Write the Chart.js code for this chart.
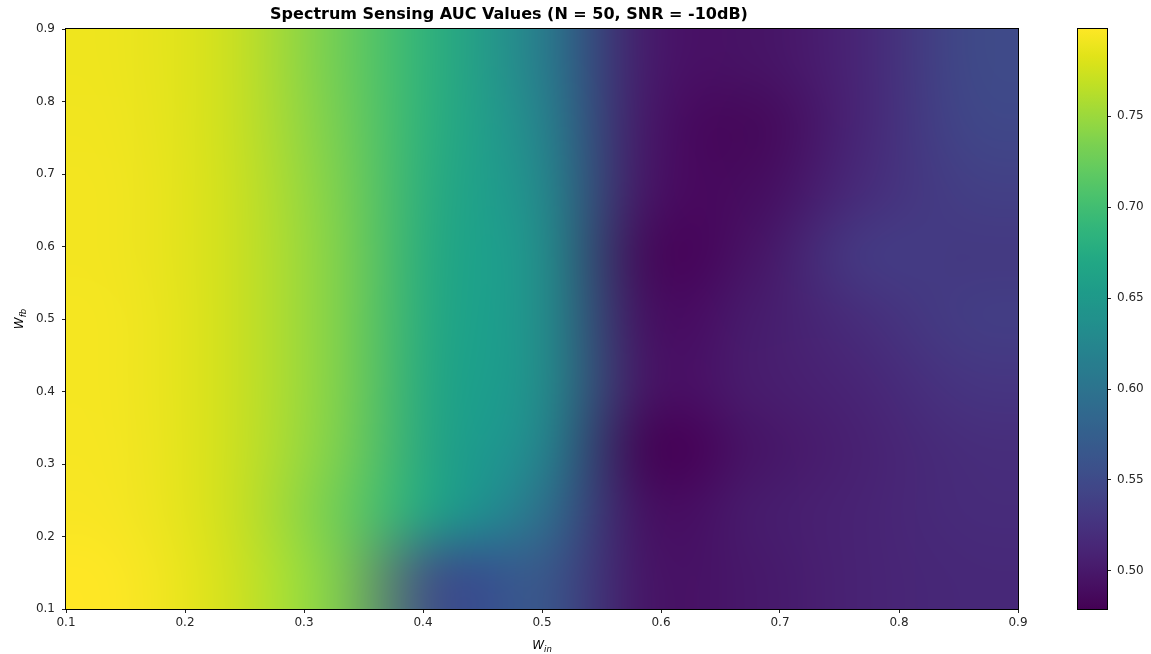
<!DOCTYPE html>
<html lang="en">
<head>
<meta charset="UTF-8">
<title>Spectrum Sensing AUC Values</title>
<script src="https://cdn.jsdelivr.net/npm/chart.js"></script>
<style>
  body { margin: 0; background: #fff; width: 1151px; height: 654px; position: relative; overflow: hidden; }
  canvas { position: absolute; top: 0; }
  #heatmap { left: 0; }
  #colorbar { left: 1060px; }
</style>
</head>
<body>
<canvas id="heatmap" width="1084" height="654"></canvas>
<canvas id="colorbar" width="91" height="654"></canvas>
<script>
// grid of the sweep: W_in along x, W_fb along y
const winValues = [0.1, 0.2, 0.3, 0.4, 0.5, 0.6, 0.7, 0.8, 0.9];
const wfbValues = [0.1, 0.2, 0.3, 0.4, 0.5, 0.6, 0.7, 0.8, 0.9];

// AUC for each W_fb row, one value per W_in
const aucFb01 = [0.798, 0.778, 0.738, 0.555, 0.568, 0.495, 0.500, 0.510, 0.515];
const aucFb02 = [0.795, 0.776, 0.732, 0.658, 0.598, 0.490, 0.502, 0.510, 0.518];
const aucFb03 = [0.794, 0.776, 0.738, 0.665, 0.625, 0.479, 0.496, 0.508, 0.520];
const aucFb04 = [0.793, 0.776, 0.740, 0.668, 0.635, 0.493, 0.503, 0.512, 0.528];
const aucFb05 = [0.793, 0.776, 0.740, 0.670, 0.636, 0.490, 0.502, 0.520, 0.536];
const aucFb06 = [0.792, 0.776, 0.740, 0.672, 0.636, 0.484, 0.495, 0.533, 0.532];
const aucFb07 = [0.792, 0.776, 0.738, 0.675, 0.630, 0.494, 0.488, 0.518, 0.538];
const aucFb08 = [0.791, 0.775, 0.735, 0.678, 0.623, 0.497, 0.484, 0.512, 0.545];
const aucFb09 = [0.790, 0.775, 0.732, 0.680, 0.615, 0.500, 0.494, 0.512, 0.548];
const aucRows = [aucFb01, aucFb02, aucFb03, aucFb04, aucFb05, aucFb06, aucFb07, aucFb08, aucFb09];

const axisTicks = [0.1, 0.2, 0.3, 0.4, 0.5, 0.6, 0.7, 0.8, 0.9];
const colorbarTicks = [0.50, 0.55, 0.60, 0.65, 0.70, 0.75];

const vmin = Math.min(...aucRows.flat());
const vmax = Math.max(...aucRows.flat());

const viridisStops = ['#440154', '#471365', '#482475', '#463480', '#414487', '#3b528b', '#355f8d',
  '#2f6c8e', '#2a788e', '#25848e', '#21918c', '#1e9c89', '#22a884', '#2fb47c', '#44bf70',
  '#5ec962', '#7ad151', '#9bd93c', '#bddf26', '#dfe318', '#fde725'];
const stopRgb = viridisStops.map(h => [1, 3, 5].map(i => parseInt(h.substr(i, 2), 16)));

function viridis(v) {
  let t = (v - vmin) / (vmax - vmin);
  t = Math.min(1, Math.max(0, t));
  const p = t * (stopRgb.length - 1);
  const i = Math.min(Math.floor(p), stopRgb.length - 2);
  const f = p - i;
  return stopRgb[i].map((c, k) => Math.round(c + (stopRgb[i + 1][k] - c) * f));
}

Chart.defaults.font.family = '"DejaVu Sans", sans-serif';
Chart.defaults.color = '#262626';

const tickFont = { family: '"DejaVu Sans", sans-serif', size: 12 };

function drawMathLabel(ctx, base, sub, cx, cy, rotate) {
  ctx.save();
  ctx.translate(cx, cy);
  if (rotate) ctx.rotate(-Math.PI / 2);
  const mainFont = 'italic 12px "DejaVu Sans"';
  const subFont = 'italic 8.5px "DejaVu Sans"';
  ctx.font = mainFont;
  const wBase = ctx.measureText(base).width;
  ctx.font = subFont;
  const wSub = ctx.measureText(sub).width;
  const start = -(wBase + wSub) / 2;
  ctx.fillStyle = '#000';
  ctx.textAlign = 'left';
  ctx.textBaseline = 'alphabetic';
  ctx.font = mainFont;
  ctx.fillText(base, start, 0);
  ctx.font = subFont;
  ctx.fillText(sub, start + wBase, 2.5);
  ctx.restore();
}

function drawFrame(ctx, a) {
  ctx.save();
  ctx.strokeStyle = '#000';
  ctx.lineWidth = 1;
  ctx.strokeRect(a.left - 0.5, a.top - 0.5, a.right - a.left + 1, a.bottom - a.top + 1);
  ctx.restore();
}

const heatmapPlugin = {
  id: 'heatmap',
  beforeDatasetsDraw(chart) {
    const { ctx, scales: { x, y } } = chart;
    const nx = winValues.length, ny = wfbValues.length;
    const off = document.createElement('canvas');
    off.width = nx;
    off.height = ny;
    const octx = off.getContext('2d');
    const img = octx.createImageData(nx, ny);
    aucRows.forEach((row, j) => {
      row.forEach((v, i) => {
        const rgb = viridis(v);
        const k = ((ny - 1 - j) * nx + i) * 4;
        img.data[k] = rgb[0];
        img.data[k + 1] = rgb[1];
        img.data[k + 2] = rgb[2];
        img.data[k + 3] = 255;
      });
    });
    octx.putImageData(img, 0, 0);

    const left = x.getPixelForValue(x.min), right = x.getPixelForValue(x.max);
    const top = y.getPixelForValue(y.max), bottom = y.getPixelForValue(y.min);
    ctx.save();
    ctx.imageSmoothingEnabled = true;
    ctx.imageSmoothingQuality = 'high';
    ctx.drawImage(off, left, top, right - left, bottom - top);
    ctx.restore();
  },
  afterDraw(chart) {
    const { ctx, chartArea: a } = chart;
    drawFrame(ctx, a);
    drawMathLabel(ctx, 'W', 'in', (a.left + a.right) / 2, a.bottom + 40, false);
    drawMathLabel(ctx, 'W', 'fb', a.left - 43, (a.top + a.bottom) / 2, true);
  }
};

new Chart(document.getElementById('heatmap'), {
  type: 'scatter',
  data: { datasets: [] },
  options: {
    responsive: false,
    animation: false,
    layout: { padding: { left: 0, top: 0, right: 66, bottom: 0 } },
    plugins: {
      legend: { display: false },
      tooltip: { enabled: false },
      title: {
        display: true,
        text: 'Spectrum Sensing AUC Values (N = 50, SNR = -10dB)',
        color: '#000',
        font: { family: '"DejaVu Sans", sans-serif', size: 16, weight: 'bold', lineHeight: 1.2 },
        padding: { top: 5, bottom: 4.8 }
      }
    },
    scales: {
      x: {
        type: 'linear',
        min: 0.1,
        max: 0.9,
        afterBuildTicks: s => { s.ticks = axisTicks.map(v => ({ value: v })); },
        afterFit: s => { s.height = 45; },
        grid: { drawOnChartArea: false, tickLength: 4, color: '#222' },
        border: { display: false },
        ticks: { font: tickFont, padding: 3, maxRotation: 0, callback: v => v.toFixed(1) }
      },
      y: {
        type: 'linear',
        min: 0.1,
        max: 0.9,
        afterBuildTicks: s => { s.ticks = axisTicks.map(v => ({ value: v })); },
        afterFit: s => { s.width = 66; },
        grid: { drawOnChartArea: false, tickLength: 4, color: '#222' },
        border: { display: false },
        ticks: { font: tickFont, padding: 7, callback: v => v.toFixed(1) }
      }
    }
  },
  plugins: [heatmapPlugin]
});

const colorbarPlugin = {
  id: 'colorbarFill',
  beforeDatasetsDraw(chart) {
    const { ctx, chartArea: a, scales: { y } } = chart;
    const yLow = y.getPixelForValue(vmin), yHigh = y.getPixelForValue(vmax);
    const grad = ctx.createLinearGradient(0, yLow, 0, yHigh);
    const steps = 64;
    for (let s = 0; s <= steps; s++) {
      const c = viridis(vmin + (vmax - vmin) * s / steps);
      grad.addColorStop(s / steps, `rgb(${c[0]},${c[1]},${c[2]})`);
    }
    ctx.save();
    ctx.fillStyle = grad;
    ctx.fillRect(a.left, yHigh, a.right - a.left, yLow - yHigh);
    ctx.restore();
  },
  afterDraw(chart) {
    drawFrame(chart.ctx, chart.chartArea);
  }
};

new Chart(document.getElementById('colorbar'), {
  type: 'scatter',
  data: { datasets: [] },
  options: {
    responsive: false,
    animation: false,
    layout: { padding: { left: 18, top: 29, right: 0, bottom: 45 } },
    plugins: { legend: { display: false }, tooltip: { enabled: false } },
    scales: {
      x: { display: false },
      y: {
        type: 'linear',
        position: 'right',
        min: vmin,
        max: vmax,
        afterBuildTicks: s => { s.ticks = colorbarTicks.map(v => ({ value: v })); },
        afterFit: s => { s.width = 44; },
        grid: { drawOnChartArea: false, tickLength: 4, color: '#222' },
        border: { display: false },
        ticks: { font: tickFont, padding: 6, callback: v => v.toFixed(2) }
      }
    }
  },
  plugins: [colorbarPlugin]
});
</script>
</body>
</html>
